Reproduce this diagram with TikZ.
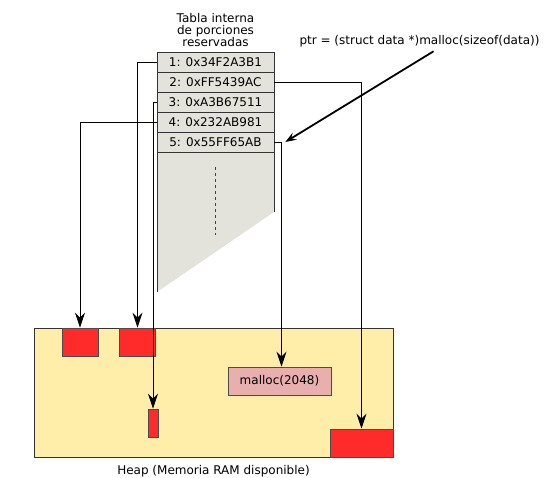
\documentclass[tikz,border=0pt]{standalone}
\usepackage{fontspec}
\setmainfont{DejaVu Sans}
\usetikzlibrary{arrows.meta,positioning}
\definecolor{heapyellow}{HTML}{FFEDAA}
\definecolor{blockred}{HTML}{FF2A2A}
\definecolor{tablegrey}{HTML}{E3E3DB}
\definecolor{mallocpink}{HTML}{E9AFAF}

\begin{document}
\begin{tikzpicture}[x=1pt, y=-1pt, font=\fontsize{12}{12}\selectfont,
  >={Stealth[length=15pt, width=10pt, inset=5pt]},
  entry/.style={draw=black!80, fill=tablegrey, line width=.6pt,
    minimum width=117pt, minimum height=20pt, inner sep=0pt},
  block/.style={draw=black!70, fill=blockred, line width=.6pt, inner sep=0pt},
  link/.style={->, line width=.7pt}]
  \useasboundingbox (0,0) rectangle (552,478);

  % heap area
  \node[draw=black!80, fill=heapyellow, line width=.6pt, inner sep=0pt,
    minimum width=359pt, minimum height=129pt] (heap) at (213.5,392.5) {};
  \node[below=5pt of heap] (heaplabel) {Heap (Memoria RAM disponible)};

  % reserved table
  \fill[tablegrey] (157,152) -- (274,152) -- (274,212) -- (157,292) -- cycle;
  \draw[line width=.6pt, black!80] (157,152) -- (157,292);
  \draw[line width=.6pt, black!80] (274,152) -- (274,212);
  \draw[black!75, dashed, line width=.7pt] (215,167) -- (215,235);
  \node[entry] (row1) at (215.5,62) {1: 0x34F2A3B1};
  \node[entry] (row2) at (215.5,82) {2: 0xFF5439AC};
  \node[entry] (row3) at (215.5,102) {3: 0xA3B67511};
  \node[entry] (row4) at (215.5,122) {4: 0x232AB981};
  \node[entry] (row5) at (215.5,142) {5: 0x55FF65AB};
  \node[above=1pt of row1, align=center] (title)
    {Tabla interna\\de porciones\\reservadas};

  % blocks in the heap
  \node[block, minimum width=36pt, minimum height=28pt] (blk1) at (80,342) {};
  \node[block, minimum width=36pt, minimum height=28pt] (blk2) at (137.5,342) {};
  \node[block, minimum width=10pt, minimum height=28pt] (blk3) at (153,423) {};
  \node[block, minimum width=63pt, minimum height=28pt] (blk4) at (361.5,443) {};
  \node[draw=black!70, fill=mallocpink, line width=.6pt,
    minimum width=103pt, minimum height=28pt] (malloc) at (279.5,381) {malloc(2048)};

  % pointers
  \draw[link] (row1.west) -| (blk2.north);
  \draw[link] (row2.east) -| (blk4.north);
  \draw[link] (row3.west) -| (blk3.north);
  \draw[link] (row4.west) -| (blk1.north);
  \draw[link] (row5.east) -| ([xshift=2pt]malloc.north);

  \node (ptr) at (419.5,41) {ptr = (struct data *)malloc(sizeof(data))};
  \draw[->, line width=1.8pt, >={Stealth[length=11pt, width=8pt, inset=4pt]}]
    ([xshift=14pt, yshift=-1pt]ptr.south) -- ([xshift=11pt]row5.east);
\end{tikzpicture}
\end{document}
